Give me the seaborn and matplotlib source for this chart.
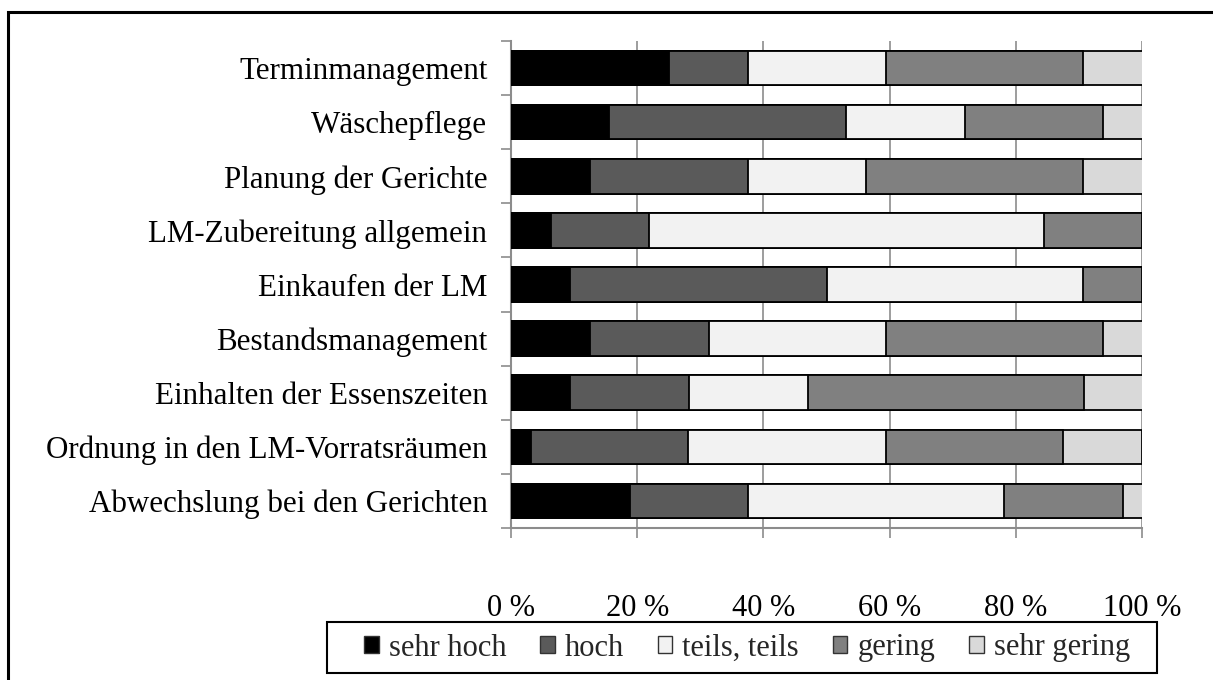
import matplotlib
matplotlib.use("Agg")
import matplotlib.pyplot as plt
import seaborn as sns
import numpy as np
import pandas as pd
from matplotlib.patches import Patch, Rectangle

categories = [
    "Terminmanagement",
    "Wäschepflege",
    "Planung der Gerichte",
    "LM-Zubereitung allgemein",
    "Einkaufen der LM",
    "Bestandsmanagement",
    "Einhalten der Essenszeiten",
    "Ordnung in den LM-Vorratsräumen",
    "Abwechslung bei den Gerichten",
]
levels = ["sehr hoch", "hoch", "teils, teils", "gering", "sehr gering"]

sehr_hoch = [25.0, 15.6, 12.5, 6.3, 9.4, 12.5, 9.4, 3.1, 18.8]
hoch = [12.5, 37.5, 25.0, 15.6, 40.6, 18.8, 18.8, 25.0, 18.8]
teils = [21.9, 18.8, 18.8, 62.5, 40.6, 28.1, 18.8, 31.3, 40.6]
gering = [31.3, 21.9, 34.4, 15.6, 9.4, 34.4, 43.8, 28.1, 18.8]
sehr_gering = [9.4, 6.3, 9.4, 0.0, 0.0, 6.3, 9.4, 12.5, 3.1]

colors = ["#000000", "#5a5a5a", "#f2f2f2", "#808080", "#d9d9d9"]

series = [sehr_hoch, hoch, teils, gering, sehr_gering]
df = pd.DataFrame({lvl: vals for lvl, vals in zip(levels, series)}, index=categories)
cum = df.cumsum(axis=1)

sns.set_theme(style="white")
plt.rcParams["font.family"] = ["Liberation Serif", "DejaVu Serif"]

W, H = 1213, 680
fig = plt.figure(figsize=(W / 100, H / 100), dpi=100)
ax = fig.add_axes([511 / W, 1 - 528 / H, (1142 - 511) / W, (528 - 41) / H])

gray = "#8c8c8c"
for i in reversed(range(len(levels))):
    d = pd.DataFrame({"cat": categories, "val": cum[levels[i]].values})
    sns.barplot(data=d, x="val", y="cat", orient="h", color=colors[i],
                edgecolor="black", linewidth=1.3, width=0.64, saturation=1,
                ax=ax, zorder=3)

ax.set_xlim(0, 100)
ax.set_ylim(len(categories) - 0.5, -0.5)
ax.set_xlabel("")
ax.set_ylabel("")
ax.set_xticks([0, 20, 40, 60, 80, 100])
ax.set_xticklabels(["0 %", "20 %", "40 %", "60 %", "80 %", "100 %"])
ax.xaxis.grid(True, color=gray, linewidth=1.2, zorder=0)
ax.set_axisbelow(True)

for s in ["top", "right"]:
    ax.spines[s].set_visible(False)
for s in ["left", "bottom"]:
    ax.spines[s].set_color(gray)
    ax.spines[s].set_linewidth(1.5)

ax.tick_params(axis="x", direction="out", length=7.5, width=1.2, color=gray,
               labelsize=22, pad=40, bottom=True, labelcolor="black")
ax.set_yticks(np.arange(-0.5, len(categories), 1.0), minor=True)
ax.tick_params(axis="y", which="minor", direction="out", length=7.5, width=1.2,
               color=gray, left=True)
ax.tick_params(axis="y", which="major", length=0, labelsize=22.3, pad=17,
               labelcolor="black")

handles = [Patch(facecolor=c, edgecolor="#333333", linewidth=1.0, label=l)
           for c, l in zip(colors, levels)]
leg = fig.legend(handles=handles, loc="center", ncol=5,
                 bbox_to_anchor=(747 / W, 1 - 648 / H),
                 frameon=False, fontsize=22,
                 handlelength=0.48, handleheight=0.48, handletextpad=0.33,
                 columnspacing=1.1, borderpad=0.2)

fig.patches.append(Rectangle((327 / W, 1 - 673 / H), (1157 - 327) / W, (673 - 622) / H,
                             transform=fig.transFigure, fill=False,
                             edgecolor="black", linewidth=1.5))

fig.patches.append(Rectangle((8 / W, -0.1), 1.2, 1 - 12 / H + 0.1,
                             transform=fig.transFigure, fill=False,
                             edgecolor="black", linewidth=2.2))

fig.savefig("out.png", dpi=100)
